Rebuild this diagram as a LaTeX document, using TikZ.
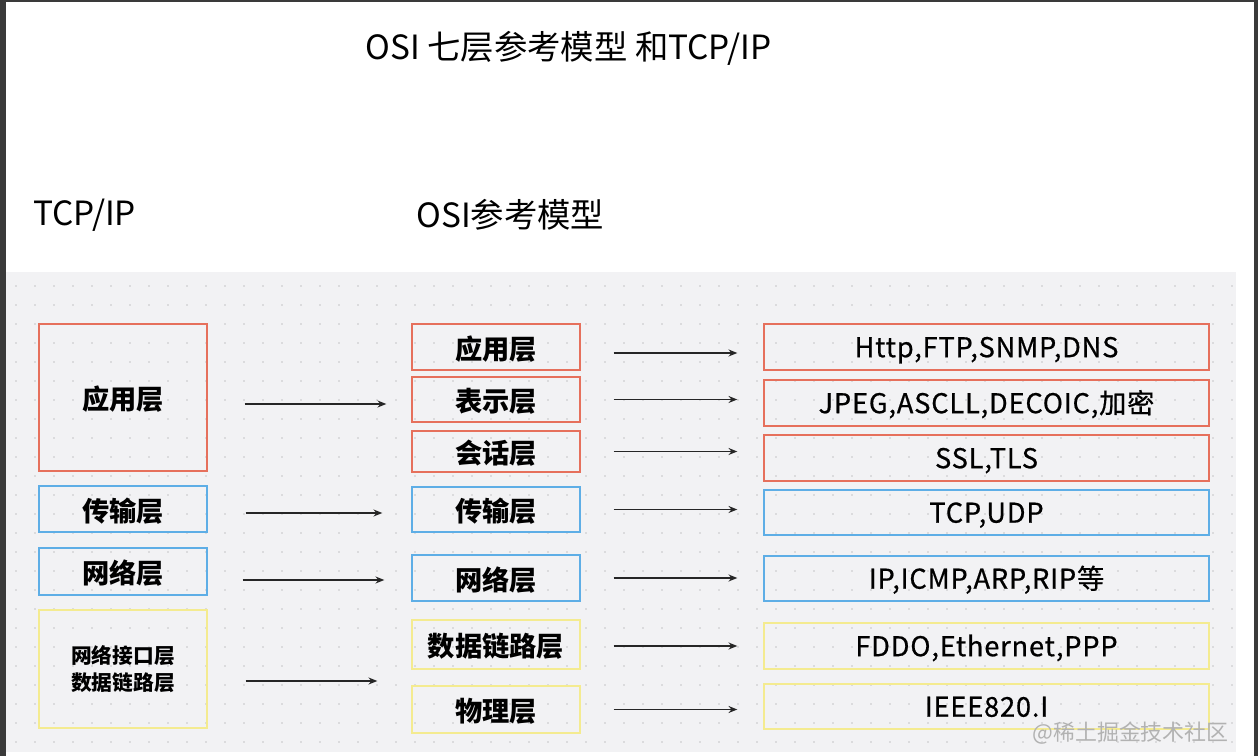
\documentclass[tikz,border=0pt]{standalone}
\usepackage{fontspec}
\setmainfont{Noto Sans CJK SC}
\newfontfamily\protofont{Noto Sans CJK SC}[FakeBold=0.6, LetterSpace=3]
\usetikzlibrary{arrows.meta}

\definecolor{layred}{HTML}{E6705C}
\definecolor{layblue}{HTML}{5EAEE6}
\definecolor{layyellow}{HTML}{F4EB90}
\definecolor{panelgray}{HTML}{F2F2F4}
\definecolor{dotgray}{HTML}{C4C4C6}
\definecolor{framegray}{HTML}{3A3A3A}

\begin{document}
\begin{tikzpicture}[x=0.02cm, y=-0.02cm,
    layer/.style={draw, line width=0.85pt, inner sep=0pt, text height=14.2pt, text depth=0pt,
                  font=\fontsize{15.5pt}{18pt}\selectfont\bfseries},
    proto/.style={draw, line width=0.85pt, inner sep=0pt, minimum width=8.9cm, text height=11.6pt, text depth=0pt,
                  font=\fontsize{15.5pt}{18pt}\protofont},
    arr/.style={-{Stealth[length=5pt,width=4pt]}, line width=0.7pt, draw=black!85},
    heading/.style={anchor=west, inner sep=0pt, font=\fontsize{19pt}{22pt}\selectfont}]

    % Background
    \fill[framegray] (0,0) rectangle (1258,756);
    \fill[white] (6,2) rectangle (1254,756);
    \fill[panelgray] (6,272) rectangle (1236,752);
    \foreach \i in {0,...,64}
        \foreach \j in {0,...,24}
            \fill[dotgray] ({16+19*\i},{286+19*\j}) circle (0.55pt);

    % Headings
    \node[heading] (title) at (365,48) {OSI 七层参考模型 和TCP/IP};
    \node[heading] (tcpip) at (33,215) {TCP/IP};
    \node[heading] (osi)   at (416,215) {OSI参考模型};

    % TCP/IP layers
    \node[layer, draw=layred,    minimum width=3.36cm, minimum height=2.94cm] (lapp)   at (123,397.5) {应用层};
    \node[layer, draw=layblue,   minimum width=3.36cm, minimum height=0.92cm] (ltrans) at (123,509)   {传输层};
    \node[layer, draw=layblue,   minimum width=3.36cm, minimum height=0.94cm] (lnet)   at (123,571.5) {网络层};
    \node[draw=layyellow, line width=0.85pt, inner sep=0pt, minimum width=3.36cm, minimum height=2.36cm, align=center,
          font=\fontsize{11.8pt}{15pt}\selectfont\bfseries] (llink) at (123,669) {网络接口层\\数据链路层};

    % OSI layers
    \node[layer, draw=layred,    minimum width=3.36cm, minimum height=0.92cm] (mapp)   at (496,347)   {应用层};
    \node[layer, draw=layred,    minimum width=3.36cm, minimum height=0.90cm] (mpres)  at (496,399.5) {表示层};
    \node[layer, draw=layred,    minimum width=3.36cm, minimum height=0.82cm] (msess)  at (496,451.5) {会话层};
    \node[layer, draw=layblue,   minimum width=3.36cm, minimum height=0.90cm] (mtrans) at (496,509.5) {传输层};
    \node[layer, draw=layblue,   minimum width=3.36cm, minimum height=0.92cm] (mnet)   at (496,578)   {网络层};
    \node[layer, draw=layyellow, minimum width=3.36cm, minimum height=0.98cm] (mlink)  at (496,644.5) {数据链路层};
    \node[layer, draw=layyellow, minimum width=3.36cm, minimum height=0.94cm] (mphys)  at (496,709.5) {物理层};

    % Protocols
    \node[proto, draw=layred,    minimum height=0.92cm] (rapp)   at (986.5,347)   {Http,FTP,SNMP,DNS};
    \node[proto, draw=layred,    minimum height=0.92cm] (rpres)  at (986.5,403)   {JPEG,ASCLL,DECOIC,加密};
    \node[proto, draw=layred,    minimum height=0.92cm] (rsess)  at (986.5,458)   {SSL,TLS};
    \node[proto, draw=layblue,   minimum height=0.90cm] (rtrans) at (986.5,512.5) {TCP,UDP};
    \node[proto, draw=layblue,   minimum height=0.90cm] (rnet)   at (986.5,578.5) {IP,ICMP,ARP,RIP等};
    \node[proto, draw=layyellow, minimum height=0.92cm] (rlink)  at (986.5,646)   {FDDO,Ethernet,PPP};
    \node[proto, draw=layyellow, minimum height=0.90cm] (rphys)  at (986.5,706.5) {IEEE820.I};

    % TCP/IP -> OSI
    \draw[arr, shorten <=0.74cm, shorten >=0.5cm] ([yshift=-0.13cm]lapp.east) -- ([yshift=-0.13cm]lapp.east -| mpres.west);
    \draw[arr, shorten <=0.76cm, shorten >=0.58cm] ([yshift=-0.08cm]ltrans.east) -- ([yshift=-0.08cm]ltrans.east -| mtrans.west);
    \draw[arr, shorten <=0.7cm, shorten >=0.54cm] ([yshift=-0.17cm]lnet.east) -- ([yshift=-0.17cm]lnet.east -| mnet.west);
    \draw[arr, shorten <=0.76cm, shorten >=0.68cm] ([yshift=-0.24cm]llink.east) -- ([yshift=-0.24cm]llink.east -| mphys.west);

    % OSI -> protocols
    \foreach \m/\r/\dy in {mapp/rapp/-0.12, mpres/rpres/0, msess/rsess/0, mtrans/rtrans/0, mnet/rnet/0, mlink/rlink/-0.03, mphys/rphys/0}
        \draw[arr, shorten <=0.66cm, shorten >=0.52cm] ([yshift=\dy cm]\m.east) -- ([yshift=\dy cm]\m.east -| \r.west);

    % Watermark
    \node[anchor=west, inner sep=0pt, text=black!30, font=\fontsize{12.5pt}{15pt}\selectfont] (mark) at (1032,733) {@稀土掘金技术社区};
\end{tikzpicture}
\end{document}
